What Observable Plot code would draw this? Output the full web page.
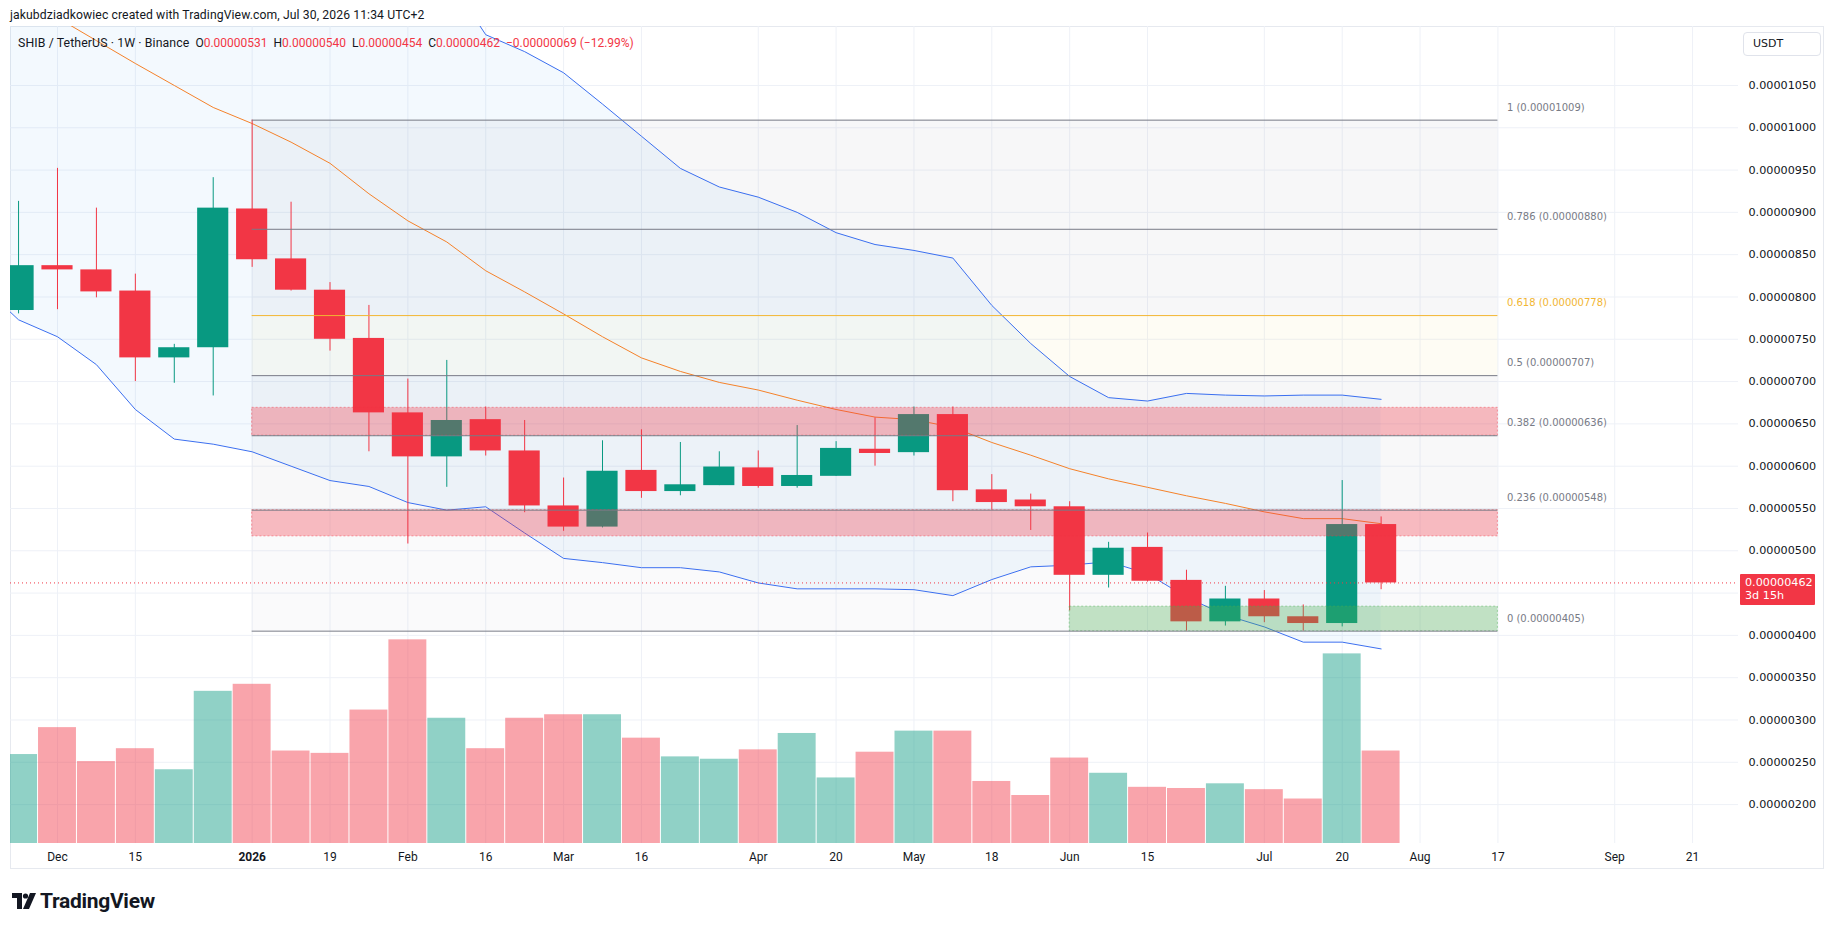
<!DOCTYPE html>
<html><head><meta charset="utf-8">
<script src="https://cdn.jsdelivr.net/npm/d3@7"></script>
<script src="https://cdn.jsdelivr.net/npm/@observablehq/plot@0.6"></script>
<style>
body{margin:0;background:#fff;}
#wrap{position:relative;width:1835px;height:931px;overflow:hidden;background:#fff;font-family:Roboto,"Noto Sans",sans-serif;color:#131722;}
.abs{position:absolute;white-space:nowrap;}
.layer{position:absolute;left:0;top:0;}
.red{color:#f23645;}
.seg{margin-right:6px;}
</style></head><body><div id="wrap"></div>
<script>
// ---- data (prices in micro-USDT, i.e. ×1e-6) ----
const weeks = ["2025-11-24","2025-12-01","2025-12-08","2025-12-15","2025-12-22","2025-12-29","2026-01-05","2026-01-12","2026-01-19","2026-01-26","2026-02-02","2026-02-09","2026-02-16","2026-02-23","2026-03-02","2026-03-09","2026-03-16","2026-03-23","2026-03-30","2026-04-06","2026-04-13","2026-04-20","2026-04-27","2026-05-04","2026-05-11","2026-05-18","2026-05-25","2026-06-01","2026-06-08","2026-06-15","2026-06-22","2026-06-29","2026-07-06","2026-07-13","2026-07-20","2026-07-27"];
const open  = [7.84,8.37,8.32,8.07,7.28,7.40,9.04,8.45,8.08,7.51,6.63,6.11,6.55,6.18,5.53,5.28,5.95,5.70,5.77,5.98,5.76,5.88,6.20,6.16,6.61,5.72,5.60,5.52,4.71,5.04,4.65,4.16,4.43,4.22,4.14,5.31];
const high  = [9.13,9.52,9.05,8.27,7.44,9.41,10.09,9.12,8.17,7.90,7.03,7.25,6.70,6.54,5.86,6.30,6.43,6.28,6.17,6.18,6.48,6.29,6.57,6.70,6.70,5.90,5.67,5.58,5.10,5.21,4.77,4.58,4.53,4.36,5.83,5.40];
const low   = [7.80,7.85,7.99,7.00,6.98,6.83,8.35,8.07,7.36,6.17,5.08,5.75,6.12,5.45,5.23,5.27,5.62,5.65,5.77,5.74,5.74,5.88,6.00,6.12,5.58,5.48,5.24,4.29,4.56,4.63,4.05,4.11,4.15,4.05,4.10,4.54];
const close = [8.37,8.32,8.06,7.28,7.40,9.05,8.44,8.08,7.50,6.63,6.11,6.54,6.18,5.53,5.28,5.94,5.70,5.78,5.99,5.76,5.89,6.21,6.15,6.61,5.71,5.57,5.52,4.71,5.03,4.64,4.16,4.43,4.22,4.14,5.31,4.62];
const volume = [76,99,70,81,63,130,136,79,77,114,174,107,81,107,110,110,90,74,72,80,94,56,78,96,96,53,41,73,60,48,47,51,46,38,162,79];

// Bollinger bands (weekly), one earlier week off-screen
const bandWeeks = ["2025-11-17", ...weeks];
const bandLower = [8.16,7.73,7.53,7.20,6.67,6.32,6.26,6.17,6.00,5.83,5.76,5.57,5.48,5.52,5.21,4.91,4.86,4.80,4.80,4.75,4.62,4.55,4.55,4.55,4.54,4.47,4.66,4.81,4.83,4.87,4.73,4.45,4.24,4.10,3.92,3.92,3.84];
const bandBasis = [11.80,11.55,11.30,11.03,10.76,10.50,10.24,10.05,9.83,9.58,9.22,8.90,8.65,8.31,8.06,7.80,7.53,7.28,7.12,6.99,6.90,6.78,6.67,6.58,6.55,6.46,6.28,6.13,5.97,5.85,5.75,5.65,5.56,5.46,5.38,5.38,5.32];
const bandUpper = [15.4,15.3,15.0,14.8,14.8,14.7,14.2,13.9,13.7,13.3,12.7,12.2,11.8,11.1,10.9,10.65,10.28,9.90,9.52,9.30,9.18,9.00,8.76,8.62,8.55,8.46,7.90,7.45,7.06,6.81,6.77,6.86,6.84,6.83,6.84,6.84,6.79];

// Fibonacci retracement
const fibRatios = [1, 0.786, 0.618, 0.5, 0.382, 0.236, 0];
const fibPrices = [10.09, 8.80, 7.78, 7.07, 6.36, 5.48, 4.05];
const fibColors = ["#787b86","#787b86","#f2b632","#787b86","#787b86","#787b86","#787b86"];
const fibBandColors = ["#787b86","#787b86","#f5c542","#787b86","#787b86","#787b86"];
const fibBandOpacity = [0.06,0.06,0.06,0.06,0.05,0.035];
const fibStartDate = "2026-01-05";
const fibEndDate = "2026-08-17";

// Supply / demand zones
const zoneLow   = [6.36, 5.17, 4.05];
const zoneHigh  = [6.69, 5.48, 4.34];
const zoneStart = ["2026-01-05","2026-01-05","2026-06-01"];
const zoneColor = ["#f23645","#f23645","#4caf50"];

// axes
const priceTicks = [2.0,2.5,3.0,3.5,4.0,4.5,5.0,5.5,6.0,6.5,7.0,7.5,8.0,8.5,9.0,9.5,10.0,10.5];
const priceLabelTicks = [2.0,2.5,3.0,3.5,4.0,5.0,5.5,6.0,6.5,7.0,7.5,8.0,8.5,9.0,9.5,10.0,10.5];
const xTickDates  = ["2025-12-01","2025-12-15","2026-01-05","2026-01-19","2026-02-02","2026-02-16","2026-03-02","2026-03-16","2026-04-06","2026-04-20","2026-05-04","2026-05-18","2026-06-01","2026-06-15","2026-07-06","2026-07-20","2026-08-03","2026-08-17","2026-09-07","2026-09-21"];
const xTickLabels = ["Dec","15","2026","19","Feb","16","Mar","16","Apr","20","May","18","Jun","15","Jul","20","Aug","17","Sep","21"];
const xDomain = ["2025-11-22T13:13Z","2026-09-29T06:14Z"];
const yDomain = [1.54, 11.197];
const volDomain = [0, 698];
const lastPrice = 4.62;

// ---- build ----
const GREEN = "#089981", RED = "#f23645";
const WEEK = 7 * 864e5;
const off = (d, k) => new Date(+d + k * WEEK);
const candles = weeks.map((w, i) => ({date: new Date(w), open: open[i], high: high[i], low: low[i], close: close[i], volume: volume[i]}));
const col = d => d.close >= d.open ? GREEN : RED;
const band = bandWeeks.map((w, i) => ({date: new Date(w), lower: bandLower[i], basis: bandBasis[i], upper: bandUpper[i]}));
const fibs = fibRatios.map((r, i) => ({ratio: r, price: fibPrices[i], color: fibColors[i], label: `${r} (${(fibPrices[i] / 1e6).toFixed(8)})`}));
const fibBands = fibPrices.slice(0, -1).map((p, i) => ({hi: p, lo: fibPrices[i + 1], color: fibBandColors[i], op: fibBandOpacity[i]}));
const zones = zoneLow.map((l, i) => ({lo: l, hi: zoneHigh[i], start: new Date(zoneStart[i]), color: zoneColor[i]}));
const tickDates = xTickDates.map(d => new Date(d));
const tickLabelMap = new Map(xTickDates.map((d, i) => [d, xTickLabels[i]]));
const fStart = new Date(fibStartDate), fEnd = new Date(fibEndDate);

const common = {
  width: 1835, height: 870,
  marginLeft: 10, marginRight: 97, marginTop: 26, marginBottom: 27,
  x: {type: "utc", domain: xDomain.map(d => new Date(d))},
  style: {background: "transparent", overflow: "visible"}
};

const pricePlot = Plot.plot({
  ...common,
  y: {domain: yDomain},
  marks: [
    Plot.gridX(tickDates, {stroke: "#eef1f7", strokeOpacity: 1}),
    Plot.gridY(priceTicks, {stroke: "#eef1f7", strokeOpacity: 1}),
    Plot.rect(fibBands, {x1: () => fStart, x2: () => fEnd, y1: "lo", y2: "hi", fill: "color", fillOpacity: "op"}),
    Plot.areaY(band, {x: "date", y1: "lower", y2: "upper", fill: "#2196f3", fillOpacity: 0.055, clip: true, curve: "linear"}),
    Plot.line(band, {x: "date", y: "upper", stroke: "#3b6ff0", strokeWidth: 1, clip: true}),
    Plot.line(band, {x: "date", y: "lower", stroke: "#3b6ff0", strokeWidth: 1, clip: true}),
    Plot.line(band, {x: "date", y: "basis", stroke: "#f5822a", strokeWidth: 1, clip: true}),
    Plot.ruleX(candles, {x: "date", y1: "low", y2: "high", stroke: col, strokeWidth: 1, clip: true}),
    Plot.rect(candles, {x1: d => off(d.date, -0.4), x2: d => off(d.date, 0.4), y1: "open", y2: "close", fill: col, clip: true}),
    Plot.rect(zones, {x1: "start", x2: () => fEnd, y1: "lo", y2: "hi", fill: "color", fillOpacity: 0.32, stroke: "color", strokeOpacity: 0.45, strokeDasharray: "2,2", strokeWidth: 1}),
    Plot.ruleY(fibs, {y: "price", x1: () => fStart, x2: () => fEnd, stroke: "color", strokeWidth: 1}),
    Plot.text(fibs, {x: () => fEnd, y: "price", text: "label", dx: 9, dy: -12.5, textAnchor: "start", fill: d => d.ratio === 0.618 ? "#f2b632" : "#787b86", fontSize: 10, fontFamily: "DejaVu Sans"}),
    Plot.ruleY([lastPrice], {stroke: RED, strokeWidth: 1, strokeDasharray: "1,3"}),
    Plot.axisY(priceLabelTicks, {anchor: "right", tickSize: 0, tickPadding: 10, tickFormat: d => (d / 1e6).toFixed(8), fontSize: 11.2, fontFamily: "DejaVu Sans", fill: "#131722", label: null}),
    Plot.axisX(tickDates, {anchor: "bottom", tickSize: 0, tickPadding: 9, tickFormat: d => tickLabelMap.get(d.toISOString().slice(0, 10)), fontSize: 12, fontFamily: "Roboto", fill: "#131722", label: null})
  ]
});

const volPlot = Plot.plot({
  ...common,
  y: {domain: volDomain, axis: null},
  marks: [
    Plot.rectY(candles, {x1: d => off(d.date, -0.5), x2: d => off(d.date, 0.5), y1: 0, y2: "volume", fill: col, fillOpacity: 0.45, insetLeft: 0.5, insetRight: 0.5, clip: true})
  ]
});
volPlot.querySelectorAll('[aria-label="x-axis tick"], [aria-label="x-axis tick label"]').forEach(n => n.remove());

const wrap = document.getElementById("wrap");
// panel border
const border = document.createElement("div");
border.className = "abs";
Object.assign(border.style, {left: "10px", top: "26px", width: "1814px", height: "843px", border: "1px solid #e6e9ef", boxSizing: "border-box"});
wrap.appendChild(border);

pricePlot.classList.add("layer");
volPlot.classList.add("layer");
wrap.appendChild(pricePlot);
wrap.appendChild(volPlot);
pricePlot.querySelectorAll("text").forEach(t => { if (t.textContent === "2026") t.setAttribute("font-weight", "bold"); });

function addDiv(html, style) {
  const d = document.createElement("div");
  d.className = "abs";
  d.innerHTML = html;
  Object.assign(d.style, style);
  wrap.appendChild(d);
  return d;
}
// header
addDiv("jakubdziadkowiec created with TradingView.com, Jul 30, 2026 11:34 UTC+2", {left: "10px", top: "7px", fontSize: "12.2px", lineHeight: "16px", letterSpacing: "0.1px"});
addDiv(
  '<span class="seg" style="letter-spacing:0.1px;font-size:12.3px">SHIB / TetherUS · 1W · Binance</span>' +
  '<span class="seg">O<span class="red">0.00000531</span></span>' +
  '<span class="seg">H<span class="red">0.00000540</span></span>' +
  '<span class="seg">L<span class="red">0.00000454</span></span>' +
  '<span class="seg">C<span class="red">0.00000462</span></span>' +
  '<span class="red">−0.00000069 (−12.99%)</span>',
  {left: "18px", top: "35px", fontSize: "12px", lineHeight: "16px"});

// currency box
addDiv("USDT", {left: "1743px", top: "32px", width: "78px", height: "24px", boxSizing: "border-box", border: "1px solid #e0e3eb", borderRadius: "4px", fontFamily: "DejaVu Sans", fontSize: "11px", lineHeight: "22px", paddingLeft: "9px"});

// last price label positioned with the plot's y scale
const yLast = pricePlot.scale("y").apply(lastPrice);
addDiv(`${(lastPrice / 1e6).toFixed(8)}<br>3d 15h`, {left: "1740px", top: (yLast - 8) + "px", width: "75px", height: "31px", background: RED, color: "#fff", fontFamily: "DejaVu Sans", fontSize: "11.2px", lineHeight: "13px", padding: "2px 0 0 5px", boxSizing: "border-box", borderRadius: "1px"});

// TradingView logo
addDiv('<svg width="24" height="16" viewBox="0 0 24 16" style="vertical-align:-1px;margin-right:4px"><path d="M0 0h10v16H5V5H0z" fill="#131722"/><circle cx="13.5" cy="3" r="2.6" fill="#131722"/><path d="M18 0h6l-7 16h-6z" fill="#131722"/></svg>TradingView', {left: "12px", top: "888px", fontSize: "21px", fontWeight: "700", lineHeight: "26px", letterSpacing: "-0.3px"});
</script>
</body></html>
